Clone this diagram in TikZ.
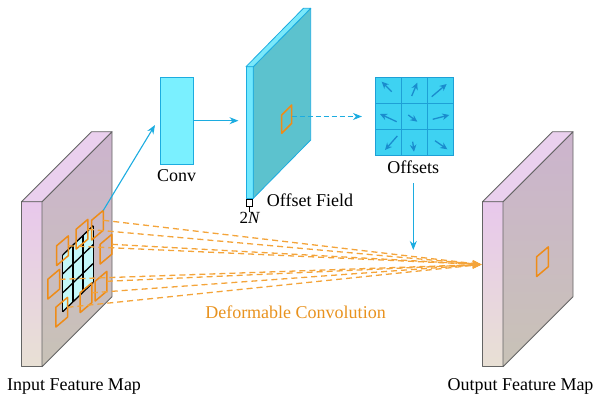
\documentclass[tikz,border=0pt]{standalone}
\usepackage{fontspec}
\setmainfont{Liberation Serif}
\usetikzlibrary{arrows.meta}
\definecolor{cyanedge}{RGB}{28,172,224}
\definecolor{convfill}{RGB}{122,240,255}
\definecolor{ofside}{RGB}{112,232,254}
\definecolor{ofmain}{RGB}{92,194,206}
\definecolor{oftop}{RGB}{122,232,250}
\definecolor{gridfill}{RGB}{62,210,242}
\definecolor{gridline}{RGB}{30,160,214}
\definecolor{arrowblue}{RGB}{26,140,206}
\definecolor{orng}{RGB}{238,140,24}
\definecolor{orngdash}{RGB}{244,164,58}
\definecolor{orngtxt}{RGB}{232,146,30}
\definecolor{plateedge}{RGB}{100,100,100}
\definecolor{pinkA}{RGB}{232,200,236}
\definecolor{beigeA}{RGB}{232,224,212}
\definecolor{mainA}{RGB}{204,180,206}
\definecolor{mainB}{RGB}{200,194,182}
\definecolor{topA}{RGB}{234,208,238}
\definecolor{incell}{RGB}{196,248,250}
\newcommand{\featplate}[1]{%
\begin{scope}[shift={(#1,0)}]
\shadedraw[platedge, top color=pinkA, bottom color=beigeA] (21.5,201.7) rectangle (42,366.7);
\shadedraw[platedge, top color=mainA, bottom color=mainB] (42,201.7) -- (112,131.7) -- (112,296.7) -- (42,366.7) -- cycle;
\filldraw[platedge, fill=topA] (21.5,201.7) -- (91.5,131.7) -- (112,131.7) -- (42,201.7) -- cycle;
\end{scope}}
\begin{document}
\begin{tikzpicture}[x=1pt,y=-1pt,
  lbl/.style={font=\fontsize{18}{20}\selectfont, inner sep=0pt, anchor=base},
  platedge/.style={draw=plateedge, line width=0.8pt, line join=round},
  sample/.style={draw=orng, line width=1.5pt, line join=round},
  dashlink/.style={draw=orngdash, line width=1.3pt, dash pattern=on 6pt off 4pt, -{Stealth[length=9pt,width=7pt]}},
  bluearrow/.style={draw=cyanedge, line width=1.1pt, -{Stealth[length=9pt,width=7pt]}},
  offarrow/.style={draw=arrowblue, line width=1.3pt, -{Stealth[length=7pt,width=6.5pt]}},
  sq/.pic={\draw[sample] (-5.8,-4.8) -- (5.8,-14.6) -- (5.8,5.2) -- (-5.8,15) -- cycle;
           \coordinate (-r) at (5.8,-4.7); \coordinate (-t) at (5.8,-14.6);}
]
\useasboundingbox (0,0) rectangle (600,401);

% input and output feature maps
\featplate{0}
\featplate{461}

% input grid
\fill[incell] (62.7,255) -- (93.3,225.6) -- (93.3,282.3) -- (62.7,311.7) -- cycle;
\foreach \i in {0,1,2,3} {
  \draw[black, line width=1.3pt] (62.7+10.2*\i,255-9.8*\i) -- (62.7+10.2*\i,311.7-9.8*\i);
  \draw[black, line width=1.3pt] (62.7,255+18.9*\i) -- (93.3,225.6+18.9*\i);
}

% sampling locations
\pic (A) at (62.5,250.5) {sq};
\pic (B) at (82,234) {sq};
\pic (C) at (97.5,225) {sq};
\pic (D) at (106,249) {sq};
\pic (E) at (53.7,284) {sq};
\pic (F) at (101,286) {sq};
\pic (G) at (86,297.5) {sq};
\pic (H) at (61.7,312) {sq};
\pic (O) at (542.5,261.5) {sq};

% deformable convolution links
\coordinate (tgt) at (481.5,264.5);
\foreach \s in {A,B,C,D,E,F,G,H} {
  \draw[dashlink] (\s-r) -- (tgt);
}

% conv
\node[draw=cyanedge, fill=convfill, line width=1pt, minimum width=32.6pt, minimum height=86.7pt, inner sep=0] (conv) at (177,120.7) {};
\coordinate (convin) at (155,125);
\draw[bluearrow] (C-t) -- (convin);

% offset field
\filldraw[draw=cyanedge, fill=ofside, line width=0.8pt, line join=round] (246,66.7) rectangle (253.3,198.3);
\filldraw[draw=cyanedge, fill=ofmain, line width=0.8pt, line join=round] (253.3,66.7) -- (310.7,8.3) -- (310.7,140) -- (253.3,198.3) -- cycle;
\filldraw[draw=cyanedge, fill=oftop, line width=0.8pt, line join=round] (246,66.7) -- (303.4,8.3) -- (310.7,8.3) -- (253.3,66.7) -- cycle;
\coordinate (ofin) at (238.5,120.7);
\draw[bluearrow] (conv.east) -- (ofin);
\draw[sample] (281.7,115) -- (291.7,105) -- (291.7,123.3) -- (281.7,133.3) -- cycle;
\coordinate (ofsq) at (291.7,116.5);

% 2N marker
\node[draw=black, fill=white, line width=0.6pt, minimum width=6pt, minimum height=6.5pt, inner sep=0, anchor=north] (nbox) at (249.7,199.3) {};
\coordinate (ntick) at (249.7,211.5);
\draw[black, line width=0.8pt] (nbox.south) -- (ntick);

% offsets grid
\node[draw=gridline, fill=gridfill, line width=1pt, minimum size=78.3pt, inner sep=0] (offs) at (414.2,116.5) {};
\draw[gridline, line width=1pt] (401.1,77.3) -- (401.1,155.7) (427.3,77.3) -- (427.3,155.7)
   (375,103.4) -- (453.3,103.4) (375,129.6) -- (453.3,129.6);
\coordinate (offin) at (362,116.5);
\draw[draw=cyanedge, line width=1.1pt, dash pattern=on 5pt off 3pt, -{Stealth[length=9pt,width=7pt]}] (ofsq) -- (offin);

\draw[offarrow] (391.7,91.7) -- (381.7,81.7);
\draw[offarrow] (411.7,96) -- (417.3,82.7);
\draw[offarrow] (431.7,96.7) -- (446.7,84);
\draw[offarrow] (396.7,121.7) -- (380,114);
\draw[offarrow] (408.3,115) -- (417.3,121.7);
\draw[offarrow] (432.7,119.3) -- (449.3,115);
\draw[offarrow] (397.3,136) -- (385,150);
\draw[offarrow] (412.7,141.7) -- (414,151.7);
\draw[offarrow] (435,140.7) -- (447.3,149.3);

\coordinate (offout) at (413.3,183.3);
\coordinate (offend) at (413.3,250);
\draw[bluearrow] (offout) -- (offend);

% labels
\node[lbl] (lconv) at (176.7,182) {Conv};
\node[lbl] (lfield) at (310,206) {Offset Field};
\node[lbl, font=\fontsize{17}{19}\selectfont] (l2n) at (250,223.5) {2\textit{N}};
\node[lbl] (loffs) at (413.3,174) {Offsets};
\node[lbl, text=orngtxt] (ldef) at (295.5,318.5) {Deformable Convolution};
\node[lbl] (lin) at (74,390) {Input Feature Map};
\node[lbl] (lout) at (520.5,390) {Output Feature Map};
\end{tikzpicture}
\end{document}
